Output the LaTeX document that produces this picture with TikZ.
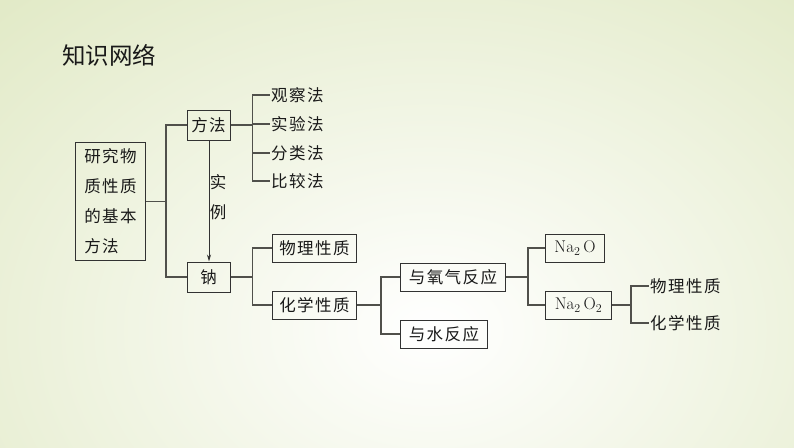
\documentclass[tikz,border=0pt]{standalone}
\usepackage{fontspec}
\newfontfamily\cjk{Noto Sans CJK SC}
\newfontfamily\cjkw[LetterSpace=9]{Noto Sans CJK SC}
\usetikzlibrary{arrows.meta}
\definecolor{bgc}{RGB}{219,229,186}
\definecolor{linec}{RGB}{80,80,75}
\definecolor{boxc}{RGB}{50,50,50}
\definecolor{txt}{RGB}{25,25,25}
\begin{document}
\begin{tikzpicture}[x=1pt,y=-1pt,
  box/.style={draw=boxc, line width=1pt, font=\cjkw\fontsize{16.5}{18}\selectfont, inner sep=0pt, minimum height=28pt, text=txt},
  chem/.style={draw=boxc, line width=1pt, font=\fontsize{17}{18}\selectfont, inner sep=0pt, minimum height=28pt, text=txt},
  leaf/.style={font=\cjkw\fontsize{16.5}{18}\selectfont, inner sep=0pt, anchor=west, text=txt},
  conn/.style={draw=linec, line width=1.1pt}]
\useasboundingbox (0,0) rectangle (794,447);
\fill[bgc] (0,0) rectangle (794,447);
\begin{scope}
\clip (0,0) rectangle (794,447);
\shade[inner color=white, outer color=bgc] (430,330) ellipse (760 and 560);
\end{scope}

\node[font=\cjk\fontsize{23.5}{25}\selectfont, anchor=west, inner sep=0pt, text=txt] (title) at (62,55) {知识网络};

\node[box, minimum width=70pt, minimum height=118pt, anchor=north west, align=left, font=\cjkw\fontsize{16.5}{30}\selectfont] (root) at (75,142) {研究物\\质性质\\的基本\\方法};

\node[box, minimum width=43pt, minimum height=30pt] (ff) at (208.5,125) {方法};
\node[box, minimum width=43pt, minimum height=30pt] (na) at (208.5,277) {钠};

\node[leaf] (l1) at (271,95) {观察法};
\node[leaf] (l2) at (271,124) {实验法};
\node[leaf] (l3) at (271,153) {分类法};
\node[leaf] (l4) at (271,181) {比较法};

\node[box, minimum width=84pt, anchor=west] (wl) at (272,248) {物理性质};
\node[box, minimum width=84pt, anchor=west] (hx) at (272,305) {化学性质};

\node[box, minimum width=105pt, anchor=west] (yq) at (400,277) {与氧气反应};
\node[box, minimum width=87pt, anchor=west] (ys) at (400,334) {与水反应};

\node[chem, minimum width=59pt, anchor=west] (nao) at (545,248) {Na$_2$\,O};
\node[chem, minimum width=66pt, anchor=west] (naoo) at (545,305) {Na$_2$\,O$_2$};

\node[leaf] (p1) at (650,286) {物理性质};
\node[leaf] (p2) at (650,323) {化学性质};

\node[font=\cjk\fontsize{16.5}{18}\selectfont, text=txt, inner sep=0pt] (shi) at (218,182) {实};
\node[font=\cjk\fontsize{16.5}{18}\selectfont, text=txt, inner sep=0pt] (li) at (218,212) {例};

\draw[conn] (root.east) -- +(20,0) |- (ff.west);
\draw[conn] (root.east) -- +(20,0) |- (na.west);

\draw[conn] (ff.east) -- +(22,0) |- ([xshift=-1pt]l1.west);
\draw[conn] (ff.east) -- +(22,0) |- ([xshift=-1pt]l2.west);
\draw[conn] (ff.east) -- +(22,0) |- ([xshift=-1pt]l3.west);
\draw[conn] (ff.east) -- +(22,0) |- ([xshift=-1pt]l4.west);

\draw[draw=boxc, line width=0.8pt, -{Stealth[length=7pt,width=4pt]}] ([xshift=0.5pt]ff.south) -- ([xshift=0.5pt]na.north);

\draw[conn] (na.east) -- +(22,0) |- (wl.west);
\draw[conn] (na.east) -- +(22,0) |- (hx.west);

\draw[conn] (hx.east) -- +(24,0) |- (yq.west);
\draw[conn] (hx.east) -- +(24,0) |- (ys.west);

\draw[conn] (yq.east) -- +(22,0) |- (nao.west);
\draw[conn] (yq.east) -- +(22,0) |- (naoo.west);

\draw[conn] (naoo.east) -- +(19,0) |- ([xshift=-1pt]p1.west);
\draw[conn] (naoo.east) -- +(19,0) |- ([xshift=-1pt]p2.west);
\end{tikzpicture}
\end{document}
